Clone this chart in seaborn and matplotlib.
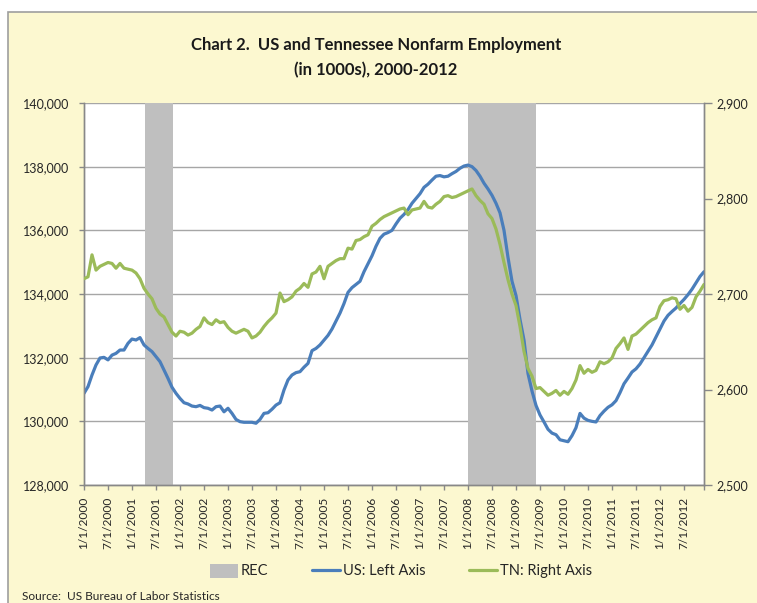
import numpy as np
import pandas as pd
import matplotlib
matplotlib.use("Agg")
import matplotlib.pyplot as plt
from matplotlib.patches import Rectangle, Patch
from matplotlib.lines import Line2D
import seaborn as sns

# ---------------- data (monthly, Jan 2000 .. Dec 2012) ----------------
us = [130880, 131090, 131455, 131770, 131990, 132010, 131930, 132080, 132135, 132240, 132240, 132450,
      132585, 132555, 132630, 132400, 132290, 132190, 132030, 131875, 131610, 131350, 131070, 130880,
      130720, 130585, 130545, 130480, 130460, 130500, 130430, 130410, 130355, 130460, 130480, 130300,
      130410, 130250, 130060, 129990, 129970, 129970, 129970, 129940, 130060, 130250, 130270, 130380,
      130510, 130585, 130985, 131300, 131455, 131530, 131560, 131700, 131820, 132220, 132290, 132400,
      132550, 132700, 132900, 133150, 133400, 133700, 134050, 134200, 134300, 134400, 134700, 134950,
      135200, 135500, 135750, 135880, 135930, 136000, 136200, 136380, 136500, 136650, 136850, 137000,
      137150, 137350, 137450, 137580, 137700, 137720, 137680, 137700, 137780, 137850, 137950, 138020,
      138050, 138000, 137880, 137700, 137480, 137300, 137100, 136850, 136550, 136000, 135150, 134400,
      133950, 133200, 132550, 131500, 130950, 130500, 130200, 129980, 129750, 129630, 129580, 129420,
      129390, 129360, 129550, 129800, 130250, 130100, 130030, 130000, 129980, 130180, 130320, 130440,
      130520, 130650, 130900, 131180, 131360, 131550, 131650, 131800, 132000, 132200, 132400, 132650,
      132900, 133150, 133330, 133450, 133560, 133700, 133830, 133980, 134150, 134350, 134550, 134700]

tn = [2716, 2718, 2741, 2725, 2729, 2731, 2733, 2732, 2727, 2732, 2727, 2726,
      2725, 2722, 2716, 2706, 2700, 2695, 2685, 2679, 2676, 2668, 2660, 2656,
      2661, 2660, 2657, 2659, 2663, 2666, 2675, 2670, 2668, 2673, 2670, 2671,
      2665, 2661, 2659, 2661, 2663, 2661, 2654, 2656, 2660, 2666, 2671, 2675,
      2680, 2701, 2692, 2694, 2697, 2703, 2706, 2711, 2707, 2721, 2723, 2729,
      2716, 2729, 2732, 2735, 2737, 2737, 2748, 2747, 2756, 2757, 2760, 2762,
      2771, 2774, 2778, 2781, 2783, 2785, 2787, 2789, 2790, 2783, 2788, 2789,
      2790, 2797, 2791, 2790, 2794, 2797, 2802, 2803, 2801, 2802, 2804, 2806,
      2808, 2810, 2803, 2798, 2794, 2784, 2779, 2768, 2752, 2733, 2715, 2700,
      2688, 2666, 2640, 2622, 2614, 2601, 2602, 2598, 2594, 2596, 2599, 2594,
      2598, 2595, 2601, 2610, 2625, 2617, 2621, 2618, 2620, 2629, 2627, 2629,
      2633, 2643, 2648, 2654, 2642, 2656, 2658, 2662, 2666, 2670, 2673, 2675,
      2687, 2693, 2694, 2696, 2695, 2684, 2688, 2682, 2686, 2697, 2703, 2710]

# recession periods (month index from Jan 2000)
rec_start = [15.3, 95.9]
rec_end = [22.3, 113.0]

tick_labels = [f"{m}/1/{y}" for y in range(2000, 2013) for m in (1, 7)]
left_ticks = [128000, 130000, 132000, 134000, 136000, 138000, 140000]
right_ticks = [2500, 2600, 2700, 2800, 2900]

# ---------------- styling ----------------
sns.set_theme(style="white")
plt.rcParams['font.family'] = ['Lato', 'DejaVu Sans']

US_C = "#4A7EBB"
TN_C = "#9BBB59"
REC_C = "#BFBFBF"
BG = "#FCF8D0"
GRID = "#A6A6A6"
TXT = "#262626"

W, H = 757, 603
fig = plt.figure(figsize=(W / 100, H / 100), dpi=100)
fig.patch.set_facecolor("white")
fig.patches.append(Rectangle((8 / W, -0.02), 1.05, 1 - 12 / H + 0.02, transform=fig.transFigure,
                             facecolor=BG, edgecolor="#9E9E9E", linewidth=1.2, zorder=-10))

L, R, T, B = 84, 704, 103, 485
ax = fig.add_axes([L / W, 1 - B / H, (R - L) / W, (B - T) / H])
ax.set_facecolor("white")

n = len(us)
df = pd.DataFrame({"month": np.arange(n), "US": us, "TN": tn})

# recession bars
ax.bar(rec_start, [140000 - 128000] * len(rec_start),
       width=np.array(rec_end) - np.array(rec_start), bottom=128000,
       align="edge", color=REC_C, linewidth=0, zorder=1)

for yv in left_ticks:
    ax.axhline(yv, color=GRID, linewidth=1.0, zorder=0.5)

sns.lineplot(data=df, x="month", y="US", ax=ax, color=US_C, linewidth=2.3, zorder=3, legend=False)
ax.set_xlim(0, n - 1)
ax.set_ylim(128000, 140000)
ax.set_yticks(left_ticks)
ax.set_yticklabels([f"{v:,}" for v in left_ticks], fontsize=9, color=TXT)
ax.set_xticks(list(range(0, 151, 6)) + [n - 1])
ax.set_xticklabels(tick_labels + [""], rotation=90, fontsize=8.6, color=TXT)
ax.set_xlabel("")
ax.set_ylabel("")
ax.tick_params(axis="y", direction="out", length=3.5, width=1, color="#888888", pad=7, left=True)
ax.tick_params(axis="x", direction="out", length=3.5, width=1, color="#888888", pad=5, bottom=True)

ax2 = ax.twinx()
sns.lineplot(data=df, x="month", y="TN", ax=ax2, color=TN_C, linewidth=2.3, zorder=4, legend=False)
ax2.set_ylim(2500, 2900)
ax2.set_yticks(right_ticks)
ax2.set_yticklabels([f"{v:,}" for v in right_ticks], fontsize=9, color=TXT)
ax2.set_ylabel("")
ax2.tick_params(axis="y", direction="out", length=6, width=1, color="#888888", pad=3, right=True)
ax2.set_xlim(0, n - 1)

for a in (ax, ax2):
    for s in ("left", "bottom", "right"):
        a.spines[s].set_color("#888888")
        a.spines[s].set_linewidth(1.0)
    a.spines["top"].set_visible(False)

fig.text(376 / W, 1 - 45 / H, "Chart 2.  US and Tennessee Nonfarm Employment",
         ha="center", va="center", fontsize=12, fontweight="bold", color="#1a1a1a")
fig.text(376 / W, 1 - 70 / H, "(in 1000s), 2000-2012",
         ha="center", va="center", fontsize=12, fontweight="bold", color="#1a1a1a")

handles = [Patch(facecolor=REC_C, edgecolor="none"),
           Line2D([0], [0], color=US_C, linewidth=2.3),
           Line2D([0], [0], color=TN_C, linewidth=2.3)]
fig.legend(handles, ["REC", "US: Left Axis", "TN: Right Axis"], loc="center",
           bbox_to_anchor=(401 / W, 1 - 571 / H), ncol=3, frameon=False,
           prop={"size": 10.5}, handlelength=1.9, handleheight=1.1,
           handletextpad=0.2, columnspacing=3.0)

fig.text(22 / W, 1 - 596 / H, "Source:  US Bureau of Labor Statistics", ha="left", va="center",
         fontsize=8.6, color=TXT)

fig.savefig("out.png", dpi=100, facecolor=fig.get_facecolor())
